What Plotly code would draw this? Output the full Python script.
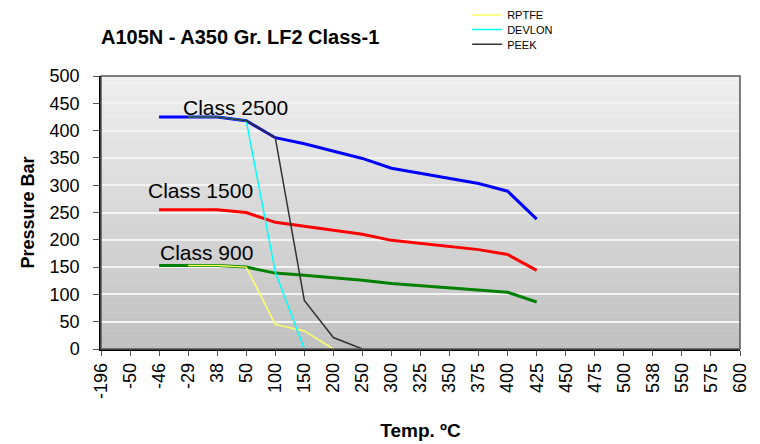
import plotly.graph_objects as go

categories = ["-196", "-50", "-46", "-29", "38", "50", "100", "150", "200", "250", "300",
              "325", "350", "375", "400", "425", "450", "475", "500", "538", "550", "575", "600"]

class_x = ["-46", "-29", "38", "50", "100", "150", "200", "250", "300", "325", "350", "375", "400", "425"]
class2500 = [425, 425, 425, 418, 387, 376, 363, 349, 331, 322, 313, 303, 289, 238]
class1500 = [255, 255, 255, 250, 232, 225, 218, 210, 199, 193, 188, 182, 173, 144]
class900 = [153, 153, 153, 150, 139, 135, 131, 126, 120, 116, 113, 109, 104, 86]

rptfe_x = ["-29", "38", "50", "100", "150", "200"]
rptfe = [153, 153, 150, 45, 33, 0]
devlon_x = ["-29", "38", "50", "100", "150"]
devlon = [425, 425, 418, 141, 0]
peek_x = ["-29", "38", "50", "100", "150", "200", "250"]
peek = [425, 425, 418, 387, 89, 21, 0]

y_ticks = [0, 50, 100, 150, 200, 250, 300, 350, 400, 450, 500]

FONT = "Liberation Sans, Arial, sans-serif"

# page has an 8px body margin; figure sized to fit the 760x444 window
W, H = 752, 436

fig = go.Figure()

# gradient background bands
nb = 60
for i in range(nb):
    t = (i + 0.5) / nb
    c = int(round(0xc0 + (0xf0 - 0xc0) * t))
    fig.add_shape(type="rect", xref="x domain", yref="y domain",
                  x0=0, x1=1, y0=i / nb, y1=(i + 1) / nb,
                  fillcolor=f"rgb({c},{c},{c})", line_width=0, layer="below")

fig.add_trace(go.Scatter(x=class_x, y=class2500, mode="lines", line=dict(color="#0000ff", width=3),
                         showlegend=False, name="Class 2500"))
fig.add_trace(go.Scatter(x=class_x, y=class1500, mode="lines", line=dict(color="#ff0000", width=3),
                         showlegend=False, name="Class 1500"))
fig.add_trace(go.Scatter(x=class_x, y=class900, mode="lines", line=dict(color="#008000", width=3),
                         showlegend=False, name="Class 900"))
fig.add_trace(go.Scatter(x=rptfe_x, y=rptfe, mode="lines", line=dict(color="#ffff66", width=1.5),
                         name="RPTFE", legend="legend"))
fig.add_trace(go.Scatter(x=devlon_x, y=devlon, mode="lines", line=dict(color="#00ffff", width=1.5),
                         name="DEVLON", legend="legend2"))
fig.add_trace(go.Scatter(x=peek_x, y=peek, mode="lines", line=dict(color="#333333", width=1.5),
                         name="PEEK", legend="legend3"))

# frame border (top/right)
fig.add_shape(type="rect", xref="x domain", yref="y domain", x0=0, x1=1, y0=0, y1=1,
              line=dict(color="#555555", width=1.5), layer="above")

for txt, xx, yy in [("Class 2500", 2.82, 443), ("Class 1500", 1.62, 290), ("Class 900", 2.03, 177)]:
    fig.add_annotation(x=xx, y=yy, text=txt, showarrow=False, xanchor="left", yanchor="middle",
                       xshift=-2, font=dict(family=FONT, size=21, color="black"))

leg_common = dict(x=0.573, xanchor="left", yanchor="middle",
                  font=dict(family=FONT, size=11, color="black"),
                  bgcolor="rgba(0,0,0,0)", itemwidth=30)

fig.update_layout(
    width=W, height=H,
    margin=dict(l=93, r=20, t=68, b=95, autoexpand=False),
    paper_bgcolor="white", plot_bgcolor="#d8d8d8",
    title=dict(text="<b>A105N - A350 Gr. LF2 Class-1</b>", x=93 / W, xanchor="left",
               y=1 - 29 / H, yanchor="middle", font=dict(family=FONT, size=20, color="black")),
    legend=dict(y=1.223, **leg_common),
    legend2=dict(y=1.170, **leg_common),
    legend3=dict(y=1.116, **leg_common),
    font=dict(family=FONT, color="black"),
)

fig.update_xaxes(type="category", categoryorder="array", categoryarray=categories,
                 tickvals=categories, range=[0, len(categories) - 1],
                 tickangle=-90, tickfont=dict(family=FONT, size=18),
                 ticks="outside", ticklen=5, tickcolor="#555555",
                 showline=True, linecolor="black", linewidth=1.5, showgrid=False, zeroline=False,
                 title=dict(text="<b>Temp. ºC</b>", font=dict(family=FONT, size=19), standoff=26))
fig.update_yaxes(range=[0, 500], tickvals=y_ticks, tickfont=dict(family=FONT, size=18),
                 ticks="outside", ticklen=6, tickcolor="#555555", ticklabelstandoff=10,
                 showline=True, linecolor="black", linewidth=1.5,
                 showgrid=True, gridcolor="#f4f4f4", gridwidth=1.5, zeroline=False,
                 title=dict(text="<b>Pressure Bar</b>", font=dict(family=FONT, size=18), standoff=10))

fig.write_html("out.html")
